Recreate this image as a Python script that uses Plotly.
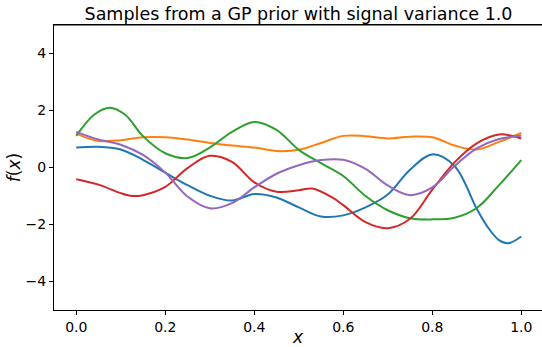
import plotly.graph_objects as go

# --- data ---
blue_x = [0.0, 0.05, 0.10, 0.15, 0.20, 0.25, 0.30, 0.35, 0.40, 0.45, 0.50, 0.55, 0.60, 0.65, 0.70, 0.75, 0.80, 0.85, 0.90, 0.925, 0.95, 0.97, 1.0]
blue_y = [0.70, 0.73, 0.63, 0.27, -0.18, -0.62, -0.99, -1.16, -0.93, -1.05, -1.40, -1.72, -1.68, -1.40, -0.95, -0.08, 0.46, 0.05, -1.45, -2.10, -2.55, -2.66, -2.42]

orange_x = [0.0, 0.05, 0.10, 0.15, 0.20, 0.25, 0.30, 0.35, 0.40, 0.45, 0.50, 0.55, 0.60, 0.65, 0.70, 0.75, 0.80, 0.85, 0.90, 0.95, 1.0]
orange_y = [1.19, 0.93, 0.96, 1.06, 1.06, 0.98, 0.86, 0.77, 0.70, 0.58, 0.62, 0.86, 1.11, 1.10, 1.02, 1.08, 1.06, 0.77, 0.63, 0.90, 1.21]

green_x = [0.0, 0.04, 0.075, 0.11, 0.15, 0.20, 0.25, 0.30, 0.35, 0.40, 0.45, 0.50, 0.55, 0.60, 0.65, 0.70, 0.75, 0.80, 0.85, 0.90, 0.95, 1.0]
green_y = [1.11, 1.85, 2.10, 1.85, 1.10, 0.50, 0.33, 0.70, 1.25, 1.60, 1.32, 0.62, 0.15, -0.30, -1.00, -1.50, -1.78, -1.82, -1.76, -1.42, -0.62, 0.26]

red_x = [0.0, 0.05, 0.10, 0.125, 0.15, 0.20, 0.25, 0.30, 0.35, 0.40, 0.45, 0.50, 0.53, 0.575, 0.60, 0.65, 0.70, 0.75, 0.80, 0.85, 0.90, 0.95, 1.0]
red_y = [-0.41, -0.60, -0.90, -1.00, -0.97, -0.68, -0.02, 0.41, 0.20, -0.52, -0.85, -0.80, -0.74, -1.05, -1.32, -1.92, -2.13, -1.80, -0.78, 0.18, 0.85, 1.16, 1.02]

purple_x = [0.0, 0.05, 0.10, 0.15, 0.20, 0.25, 0.30, 0.35, 0.40, 0.45, 0.50, 0.55, 0.60, 0.65, 0.70, 0.75, 0.80, 0.85, 0.90, 0.95, 1.0]
purple_y = [1.25, 0.98, 0.80, 0.44, -0.18, -1.02, -1.43, -1.25, -0.70, -0.22, 0.08, 0.26, 0.27, -0.05, -0.63, -0.97, -0.70, 0.05, 0.67, 1.00, 1.11]

x_ticks = [0.0, 0.2, 0.4, 0.6, 0.8, 1.0]
x_tick_labels = ["0.0", "0.2", "0.4", "0.6", "0.8", "1.0"]
y_ticks = [-4, -2, 0, 2, 4]
y_tick_labels = ["\u22124", "\u22122", "0", "2", "4"]

series = [
    (blue_x, blue_y, "#1f77b4"),
    (orange_x, orange_y, "#ff7f0e"),
    (green_x, green_y, "#2ca02c"),
    (red_x, red_y, "#d62728"),
    (purple_x, purple_y, "#9467bd"),
]

FONT = "DejaVu Sans"

fig = go.Figure()
for xs, ys, c in series:
    fig.add_trace(go.Scatter(x=xs, y=ys, mode="lines",
                             line=dict(color=c, width=2, shape="spline", smoothing=1.0),
                             showlegend=False, hoverinfo="skip"))

fig.update_layout(
    width=542, height=347, autosize=False,
    margin=dict(l=54, r=0, t=25, b=37, pad=0),
    paper_bgcolor="white", plot_bgcolor="white",
    font=dict(family=FONT, color="black", size=14),
    title=dict(text="Samples from a GP prior with signal variance 1.0",
               x=298.5 / 542, xref="container", xanchor="center",
               y=1 - 13.5 / 347, yref="container", yanchor="middle",
               font=dict(family=FONT, size=17.5, color="black")),
    shapes=[dict(type="line", xref="paper", yref="paper", x0=0, x1=1, y0=1, y1=1,
                 line=dict(color="black", width=1), layer="above")],
)
fig.update_xaxes(
    range=[-0.05, 1.0466], showgrid=False, zeroline=False, automargin=False,
    showline=True, mirror=True, linecolor="black", linewidth=1,
    ticks="outside", ticklen=4, tickwidth=1, tickcolor="black",
    tickvals=x_ticks, ticktext=x_tick_labels,
    tickfont=dict(family=FONT, size=14, color="black"),
    title=dict(text="<i>x</i>", font=dict(family=FONT, size=17, color="black"), standoff=12),
)
fig.update_yaxes(
    range=[-5, 5], showgrid=False, zeroline=False, automargin=False,
    showline=True, mirror=False, linecolor="black", linewidth=1,
    ticks="outside", ticklen=4, tickwidth=1, tickcolor="black",
    tickvals=y_ticks, ticktext=y_tick_labels,
    tickfont=dict(family=FONT, size=14, color="black"),
    title=dict(text="<i>f</i>(<i>x</i>)", font=dict(family=FONT, size=17, color="black"), standoff=0),
)

fig.write_html("out.html")
